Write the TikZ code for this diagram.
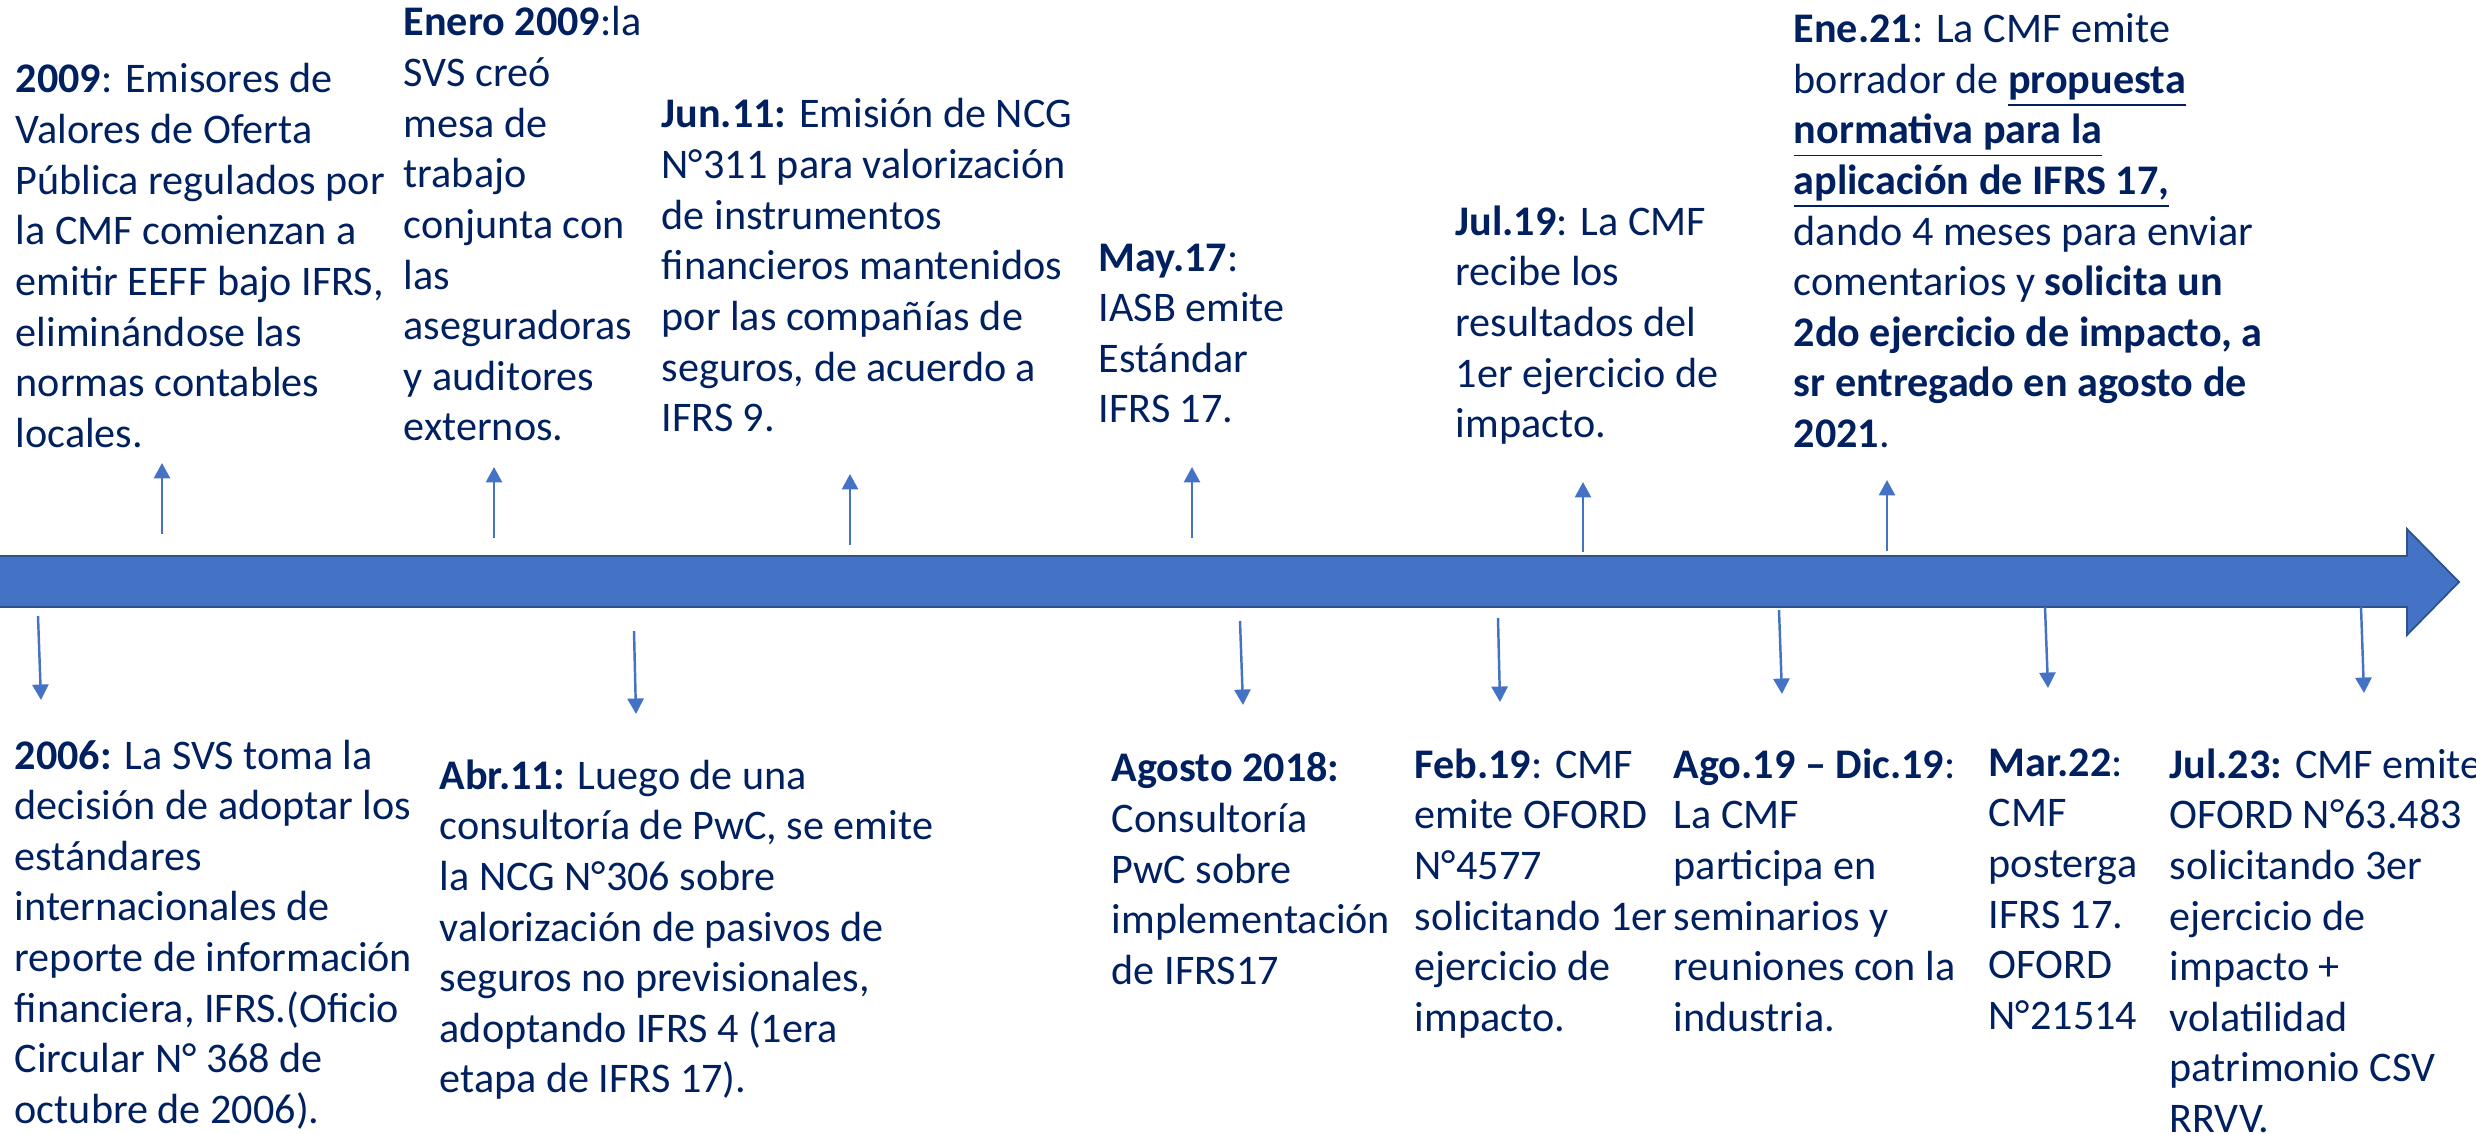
\documentclass[tikz,border=0pt]{standalone}
\usepackage{fontspec}
\setmainfont{Carlito}
\usepackage{xcolor}
\usetikzlibrary{arrows.meta}
\definecolor{navytext}{RGB}{0,32,96}
\definecolor{arrowblue}{RGB}{68,114,196}
\definecolor{arrowedge}{RGB}{47,82,143}

\begin{document}
\begin{tikzpicture}[
  event/.style={font=\fontsize{12}{14.4}\selectfont, text=navytext, inner sep=0pt, anchor=north west, align=left},
  tick/.style={arrowblue, line width=0.7pt, -{Triangle[width=4.6pt,length=4.4pt]}},
]
  \useasboundingbox (0,0) rectangle (24.76,11.33);

  % Timeline arrow
  \draw[fill=arrowblue, draw=arrowedge, line width=0.5pt]
      (-0.1,5.77) -- (24.07,5.77) -- (24.07,6.04) -- (24.59,5.51)
      -- (24.07,4.98) -- (24.07,5.26) -- (-0.1,5.26) -- cycle;

  % Events above the line
  \node[event] (ev2009) at (0.15,10.70)
      {\textbf{2009}: Emisores de\\Valores de Oferta\\Pública regulados por\\la CMF comienzan a\\emitir EEFF bajo IFRS,\\eliminándose las\\normas contables\\locales.};
  \node[event] (evEne09) at (4.03,11.27)
      {\textbf{Enero 2009}:la\\SVS creó\\mesa de\\trabajo\\conjunta con\\las\\aseguradoras\\y auditores\\externos.};
  \node[event] (evJun11) at (6.61,10.35)
      {\textbf{Jun.11:} Emisión de NCG\\N°311 para valorización\\de instrumentos\\financieros mantenidos\\por las compañías de\\seguros, de acuerdo a\\IFRS 9.};
  \node[event] (evMay17) at (10.98,8.90)
      {\textbf{May.17}:\\IASB emite\\Estándar\\IFRS 17.};
  \node[event] (evJul19) at (14.55,9.28)
      {\textbf{Jul.19}: La CMF\\recibe los\\resultados del\\1er ejercicio de\\impacto.};
  \node[event] (evEne21) at (17.93,11.20)
      {\textbf{Ene.21}: La CMF emite\\borrador de \underline{\textbf{propuesta}}\\\underline{\textbf{normativa para la}}\\\underline{\textbf{aplicación de IFRS 17,}}\\dando 4 meses para enviar\\comentarios y \textbf{solicita un}\\\textbf{2do ejercicio de impacto, a}\\\textbf{sr entregado en agosto de}\\\textbf{2021}.};

  % Events below the line
  \node[event] (ev2006) at (0.14,3.94)
      {\textbf{2006:} La SVS toma la\\decisión de adoptar los\\estándares\\internacionales de\\reporte de información\\financiera, IFRS.(Oficio\\Circular N° 368 de\\octubre de 2006).};
  \node[event] (evAbr11) at (4.39,3.74)
      {\textbf{Abr.11:} Luego de una\\consultoría de PwC, se emite\\la NCG N°306 sobre\\valorización de pasivos de\\seguros no previsionales,\\adoptando IFRS 4 (1era\\etapa de IFRS 17).};
  \node[event] (evAgo18) at (11.11,3.81)
      {\textbf{Agosto 2018:}\\Consultoría\\PwC sobre\\implementación\\de IFRS17};
  \node[event] (evFeb19) at (14.14,3.85)
      {\textbf{Feb.19}: CMF\\emite OFORD\\N°4577\\solicitando 1er\\ejercicio de\\impacto.};
  \node[event] (evAgoDic19) at (16.73,3.85)
      {\textbf{Ago.19 – Dic.19}:\\La CMF\\participa en\\seminarios y\\reuniones con la\\industria.};
  \node[event] (evMar22) at (19.88,3.85)
      {\textbf{Mar.22}:\\CMF\\posterga\\IFRS 17.\\OFORD\\N°21514};
  \node[event] (evJul23) at (21.69,3.85)
      {\textbf{Jul.23:} CMF emite\\OFORD N°63.483\\solicitando 3er\\ejercicio de\\impacto +\\volatilidad\\patrimonio CSV\\RRVV.};

  % Pointers from the line
  \foreach \n/\xa/\ya/\yb in {1/1.62/5.99/6.70, 2/4.94/5.95/6.66, 3/8.50/5.88/6.59,
                              4/11.92/5.95/6.66, 5/15.83/5.81/6.51, 6/18.87/5.82/6.53} {
    \coordinate (up\n) at (\xa,\ya);
    \coordinate (upend\n) at (\xa,\yb);
    \draw[tick] (up\n) -- (upend\n);
  }
  \foreach \n/\xa/\ya/\xb/\yb in {1/0.38/5.17/0.41/4.33, 2/6.34/5.02/6.36/4.19,
                                  3/12.40/5.12/12.43/4.28, 4/14.98/5.15/15.00/4.31,
                                  5/17.79/5.23/17.82/4.39, 6/20.45/5.26/20.48/4.45,
                                  7/23.61/5.26/23.64/4.40} {
    \coordinate (down\n) at (\xa,\ya);
    \coordinate (downend\n) at (\xb,\yb);
    \draw[tick] (down\n) -- (downend\n);
  }
\end{tikzpicture}
\end{document}
